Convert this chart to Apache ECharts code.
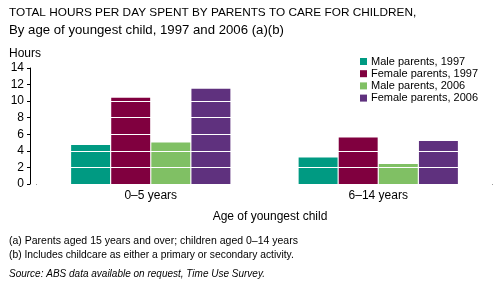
<!DOCTYPE html>
<html>
<head>
<meta charset="utf-8">
<script src="https://cdn.jsdelivr.net/npm/echarts@6/dist/echarts.min.js"></script>
<style>
  html, body { margin: 0; padding: 0; background: #fff; }
  #chart { width: 496px; height: 284px; }
</style>
</head>
<body>
<div id="chart"></div>
<script>
// 数据
const categories = ['0–5 years', '6–14 years'];
const seriesNames = ['Male parents, 1997', 'Female parents, 1997', 'Male parents, 2006', 'Female parents, 2006'];
const male1997 = [4.7, 3.2];
const female1997 = [10.4, 5.6];
const male2006 = [5.0, 2.4];
const female2006 = [11.5, 5.2];
const colors = ['#009a82', '#80003f', '#80c064', '#5f317e'];

const FONT = '"Liberation Sans", Arial, sans-serif';
const chart = echarts.init(document.getElementById('chart'));

const values = [male1997, female1997, male2006, female2006];

chart.setOption({
    animation: false,
    textStyle: { fontFamily: FONT, color: '#000' },
    title: [
        { text: 'TOTAL HOURS PER DAY SPENT BY PARENTS TO CARE FOR CHILDREN,', left: 4, top: 2,
          textStyle: { fontSize: 11.8, fontWeight: 'normal', color: '#000', fontFamily: FONT } },
        { text: 'By age of youngest child, 1997 and 2006 (a)(b)', left: 4, top: 19,
          textStyle: { fontSize: 13.2, fontWeight: 'normal', color: '#000', fontFamily: FONT } },
        { text: 'Hours', left: 4, top: 43,
          textStyle: { fontSize: 12, fontWeight: 'normal', color: '#000', fontFamily: FONT } },
        { text: 'Age of youngest child', left: 265, textAlign: 'center', top: 206,
          textStyle: { fontSize: 12, fontWeight: 'normal', color: '#000', fontFamily: FONT } },
        { text: '(a) Parents aged 15 years and over; children aged 0–14 years', left: 4, top: 231,
          textStyle: { fontSize: 10.5, fontWeight: 'normal', color: '#000', fontFamily: FONT } },
        { text: '(b) Includes childcare as either a primary or secondary activity.', left: 4, top: 245,
          textStyle: { fontSize: 10.3, fontWeight: 'normal', color: '#000', fontFamily: FONT } },
        { text: 'Source: ABS data available on request, Time Use Survey.', left: 4, top: 264,
          textStyle: { fontSize: 10, fontWeight: 'normal', fontStyle: 'italic', color: '#000', fontFamily: FONT } }
    ],
    legend: {
        data: seriesNames,
        orient: 'vertical',
        left: 355,
        top: 51,
        z: 10,
        itemWidth: 7,
        itemHeight: 7,
        itemGap: 1.2,
        icon: 'rect',
        textStyle: { fontSize: 11, color: '#000', fontFamily: FONT, padding: [0, 0, 0, -1] }
    },
    grid: { left: 37, right: 4, top: 68, bottom: 100 },
    xAxis: {
        type: 'category',
        data: categories,
        axisLine: { lineStyle: { color: '#000', width: 1 } },
        axisTick: { alignWithLabel: true, length: 4, lineStyle: { color: '#000' } },
        axisLabel: { fontSize: 12, color: '#000', margin: 6, fontFamily: FONT }
    },
    yAxis: {
        type: 'value',
        min: 0,
        max: 14,
        interval: 2,
        offset: 7,
        z: 5,
        axisLine: { show: true, lineStyle: { color: '#000', width: 1 } },
        axisTick: { show: true, length: 3, lineStyle: { color: '#000' } },
        axisLabel: { fontSize: 12, color: '#000', margin: 6, fontFamily: FONT },
        splitLine: { show: true, lineStyle: { color: '#fff', width: 1 } }
    },
    series: values.map((v, i) => ({
        name: seriesNames[i],
        type: 'bar',
        data: v,
        itemStyle: { color: colors[i] },
        barGap: '3%',
        barCategoryGap: '30%'
    }))
});
</script>
</body>
</html>
